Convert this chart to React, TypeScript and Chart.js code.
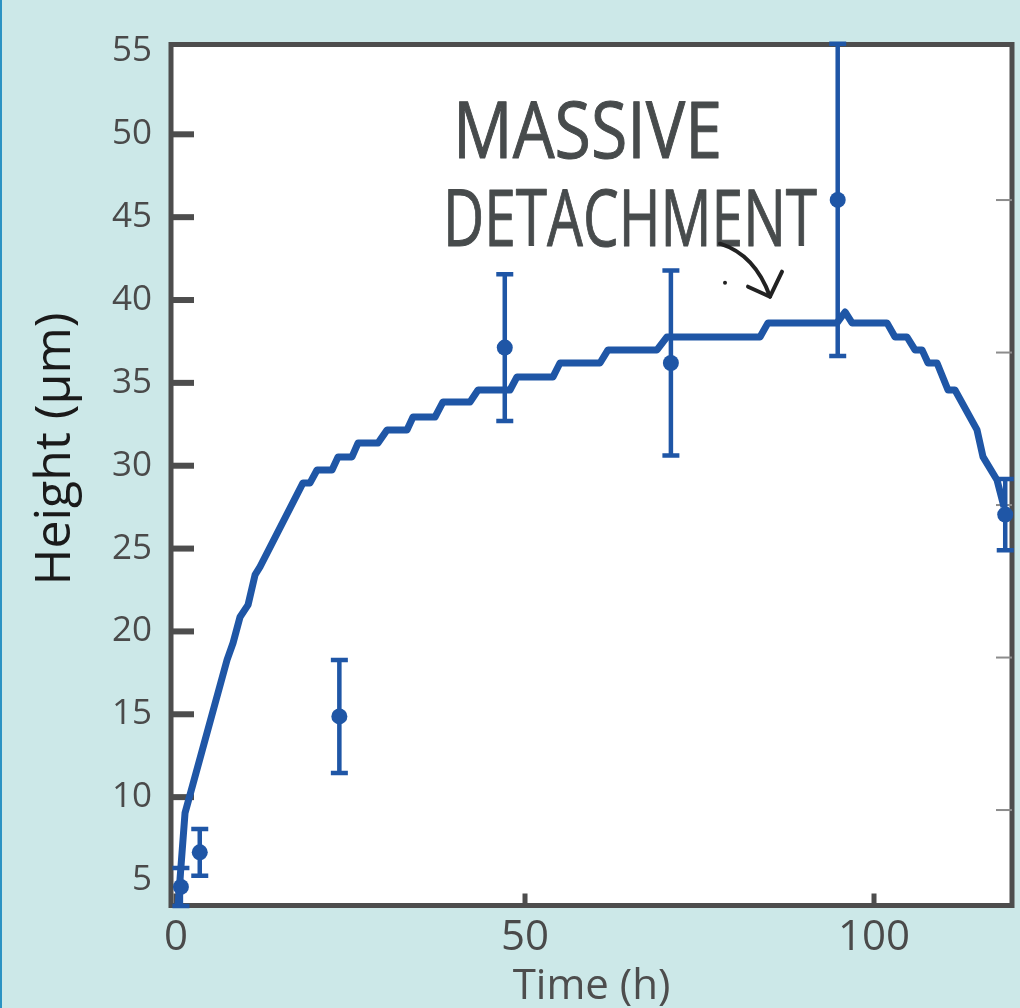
import React, { useEffect, useRef } from "react";
import { Chart, registerables } from "chart.js";

Chart.register(...registerables);

// Simulated height curve (time in h, height in µm)
const simTime = [
  0.29, 1.29, 7.31, 8.17, 9.17, 10.32, 11.32, 12.03, 18.19, 19.2, 20.2, 22.35, 23.21, 25.21,
  26.07, 28.94, 30.23, 33.09, 33.95, 37.11, 38.25, 42.12, 43.27, 47.85, 48.85, 54.01, 55.01,
  60.74, 61.89, 68.91, 70.34, 83.67, 84.81, 94.7, 95.85, 96.85, 101.86, 103.01, 104.73,
  105.87, 106.88, 107.74, 109.03, 110.6, 111.6, 114.76, 115.62, 117.62, 118.62,
];
const simHeight = [
  3.49, 9.04, 18.28, 19.3, 20.87, 21.6, 23.41, 23.89, 28.96, 28.96, 29.74, 29.74, 30.53, 30.53,
  31.37, 31.37, 32.16, 32.16, 32.94, 32.94, 33.85, 33.85, 34.57, 34.57, 35.36, 35.36, 36.2,
  36.2, 36.99, 36.99, 37.77, 37.77, 38.62, 38.62, 39.28, 38.62, 38.62, 37.77, 37.77,
  36.99, 36.99, 36.2, 36.2, 34.57, 34.57, 32.16, 30.53, 29.14, 27.51,
];

// Measured points with error bars
const expTime = [0.7, 3.4, 23.4, 47.1, 70.9, 94.8, 118.8];
const expHeight = [4.58, 6.67, 14.87, 37.13, 36.2, 46.04, 27.05];
const expError = [1.15, 1.41, 3.41, 4.43, 5.58, 9.42, 2.15];

// Axes
const xTicks = [0, 50, 100];
const yTicks = [5, 10, 15, 20, 25, 30, 35, 40, 45, 50, 55];
const yTickMarks = [10, 15, 20, 25, 30, 35, 40, 45, 50];
const y2TickMarks = [10, 20, 30, 40, 50];
const xRange = [-0.72, 119.77];
const yRange = [3.46, 55.42];
const y2Range = [3.74, 60.2];

const annotationLines = ["MASSIVE", "DETACHMENT"];

const BLUE = "#1f56a6";
const GRAY = "#4d4d4d";
const FONT = "'Open Sans', 'Noto Sans', sans-serif";

const decorPlugin = {
  id: "decor",
  beforeDraw(chart: any) {
    const { ctx, width, height, chartArea: a } = chart;
    ctx.save();
    ctx.fillStyle = "#cce8e8";
    ctx.fillRect(0, 0, width, height);
    ctx.fillStyle = "#2b93c3";
    ctx.fillRect(0, 0, 2, height);
    ctx.fillStyle = "#ffffff";
    ctx.fillRect(a.left, a.top, a.right - a.left, a.bottom - a.top);
    ctx.restore();
  },
  beforeDatasetsDraw(chart: any) {
    const { ctx, chartArea: a, scales } = chart;
    const xs = scales.x;
    const ys = scales.y;
    const y2 = scales.y2;
    ctx.save();
    // frame
    ctx.strokeStyle = GRAY;
    ctx.lineWidth = 5;
    ctx.strokeRect(a.left, a.top, a.right - a.left, a.bottom - a.top);
    // left ticks (inward)
    ctx.fillStyle = GRAY;
    yTickMarks.forEach((v) => {
      const y = ys.getPixelForValue(v);
      ctx.fillRect(a.left, y - 3, 23, 6);
    });
    // bottom ticks
    xTicks.forEach((v) => {
      const x = xs.getPixelForValue(v);
      ctx.fillRect(x - 2.5, a.bottom - 12, 5, 12);
    });
    // right thin ticks
    ctx.fillStyle = "#8c8c8c";
    y2TickMarks.forEach((v) => {
      const y = y2.getPixelForValue(v);
      ctx.fillRect(a.right - 16, y - 1, 16, 2);
    });
    // error bars
    ctx.strokeStyle = BLUE;
    ctx.lineWidth = 4.5;
    expTime.forEach((t, i) => {
      const x = xs.getPixelForValue(t);
      const yt = ys.getPixelForValue(expHeight[i] + expError[i]);
      const yb = ys.getPixelForValue(expHeight[i] - expError[i]);
      ctx.beginPath();
      ctx.moveTo(x, yt);
      ctx.lineTo(x, yb);
      ctx.moveTo(x - 8.5, yt);
      ctx.lineTo(x + 8.5, yt);
      ctx.moveTo(x - 8.5, yb);
      ctx.lineTo(x + 8.5, yb);
      ctx.stroke();
    });
    ctx.restore();
  },
  afterDraw(chart: any) {
    const { ctx, scales } = chart;
    const xs = scales.x;
    const ys = scales.y;
    ctx.save();
    // handwritten-style note
    ctx.fillStyle = "#474b4c";
    ctx.strokeStyle = "#474b4c";
    ctx.lineWidth = 1;
    ctx.lineJoin = "round";
    ctx.font = `400 78px ${FONT}`;
    ctx.textAlign = "left";
    ctx.textBaseline = "alphabetic";
    const ax = xs.getPixelForValue(39.7);
    const ay = ys.getPixelForValue(48.6);
    ctx.fillText(annotationLines[0], ax, ay, 269);
    ctx.strokeText(annotationLines[0], ax, ay, 269);
    ctx.fillText(annotationLines[1], ax - 10, ay + 88, 374);
    ctx.strokeText(annotationLines[1], ax - 10, ay + 88, 374);
    // arrow
    const tx = xs.getPixelForValue(85.1);
    const ty = ys.getPixelForValue(40.2);
    ctx.strokeStyle = "#222222";
    ctx.lineWidth = 4;
    ctx.lineCap = "round";
    ctx.beginPath();
    ctx.moveTo(tx - 50, ty - 53);
    ctx.quadraticCurveTo(tx - 15, ty - 42, tx, ty);
    ctx.stroke();
    ctx.beginPath();
    ctx.moveTo(tx - 22, ty - 10);
    ctx.lineTo(tx, ty);
    ctx.lineTo(tx + 12, ty - 25);
    ctx.stroke();
    ctx.fillStyle = "#222222";
    ctx.beginPath();
    ctx.arc(tx - 45, ty - 14, 2, 0, Math.PI * 2);
    ctx.fill();
    ctx.restore();
  },
};

export default function App() {
  const ref = useRef<HTMLCanvasElement | null>(null);

  useEffect(() => {
    if (!ref.current) return;
    const chart = new Chart(ref.current, {
      type: "scatter",
      data: {
        datasets: [
          {
            label: "model",
            data: simTime.map((t, i) => ({ x: t, y: simHeight[i] })),
            showLine: true,
            borderColor: BLUE,
            borderWidth: 7,
            borderJoinStyle: "round",
            pointRadius: 0,
            clip: false,
          } as any,
          {
            label: "measured",
            data: expTime.map((t, i) => ({ x: t, y: expHeight[i] })),
            pointRadius: 8,
            pointBackgroundColor: BLUE,
            pointBorderWidth: 0,
            backgroundColor: BLUE,
            borderColor: BLUE,
            clip: false,
          } as any,
        ],
      },
      options: {
        responsive: false,
        animation: false,
        layout: { padding: { top: 44.5, right: 8, left: 0, bottom: 0 } },
        plugins: { legend: { display: false }, tooltip: { enabled: false } },
        scales: {
          x: {
            type: "linear",
            position: "bottom",
            min: xRange[0],
            max: xRange[1],
            afterBuildTicks: (s: any) => {
              s.ticks = xTicks.map((v) => ({ value: v }));
            },
            afterFit: (s: any) => {
              s.height = 102.5;
            },
            grid: { display: false, drawTicks: false, tickLength: 0 },
            border: { display: false },
            ticks: {
              font: { family: FONT, size: 42 },
              color: "#4a4a4a",
              padding: 7,
              maxRotation: 0,
              autoSkip: false,
            },
            title: {
              display: true,
              text: "Time (h)",
              font: { family: FONT, size: 42, lineHeight: 1 },
              color: "#4d4d4d",
              padding: { top: 0, bottom: 0 },
            },
          },
          y: {
            type: "linear",
            position: "left",
            min: yRange[0],
            max: yRange[1],
            afterBuildTicks: (s: any) => {
              s.ticks = yTicks.map((v) => ({ value: v }));
            },
            afterFit: (s: any) => {
              s.width = 171;
            },
            grid: { display: false, drawTicks: false, tickLength: 0 },
            border: { display: false },
            ticks: {
              font: { family: FONT, size: 35 },
              color: "#4a4a4a",
              padding: 19,
              autoSkip: false,
            },
            title: {
              display: true,
              text: "    Height (μm)",
              font: { family: FONT, size: 50, lineHeight: 1.2 },
              color: "#1a1a1a",
              padding: { top: 26, bottom: 0 },
            },
          },
          y2: {
            type: "linear",
            position: "right",
            display: false,
            min: y2Range[0],
            max: y2Range[1],
          },
        },
      } as any,
      plugins: [decorPlugin],
    });
    return () => chart.destroy();
  }, []);

  return (
    <div style={{ position: "absolute", left: 0, top: 0, width: 1020, height: 1008 }}>
      <canvas ref={ref} width={1020} height={1008} style={{ display: "block" }} />
    </div>
  );
}
